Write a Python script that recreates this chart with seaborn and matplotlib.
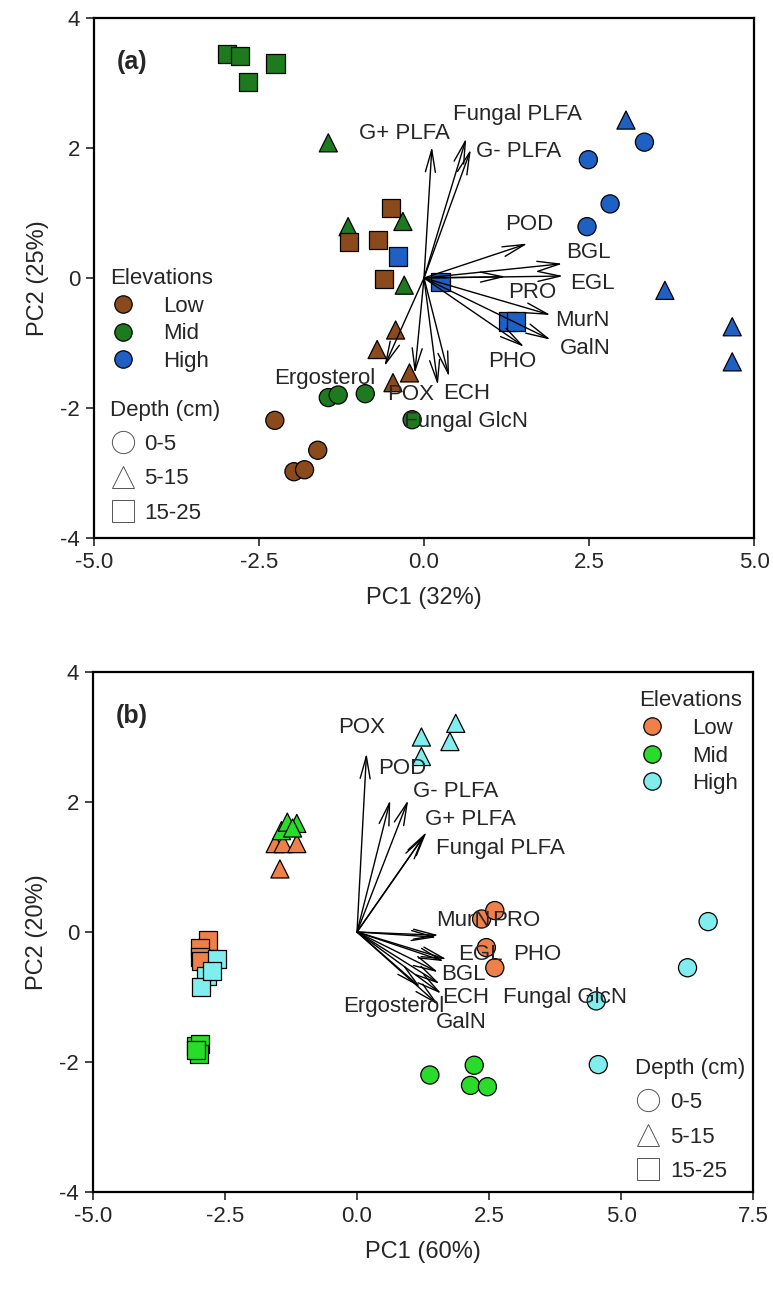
import numpy as np
import pandas as pd
import matplotlib
matplotlib.use("Agg")
import matplotlib.pyplot as plt
from matplotlib.lines import Line2D
import seaborn as sns

# ---------------- data: panel (a) ----------------
elev_levels = ["Low", "Mid", "High"]
depth_levels = ["0-5", "5-15", "15-25"]

a_low_circ_x = [-2.26, -1.61, -1.97, -1.81]
a_low_circ_y = [-2.19, -2.65, -2.98, -2.95]
a_mid_circ_x = [-1.45, -1.30, -0.89, -0.18]
a_mid_circ_y = [-1.84, -1.80, -1.78, -2.18]
a_high_circ_x = [3.34, 2.49, 2.82, 2.47]
a_high_circ_y = [2.09, 1.82, 1.14, 0.79]
a_low_tri_x = [-0.43, -0.71, -0.22, -0.47]
a_low_tri_y = [-0.80, -1.10, -1.46, -1.61]
a_mid_tri_x = [-1.45, -0.32, -1.15, -0.30]
a_mid_tri_y = [2.08, 0.87, 0.79, -0.11]
a_high_tri_x = [3.06, 3.65, 4.67, 4.67]
a_high_tri_y = [2.43, -0.19, -0.75, -1.29]
a_low_sq_x = [-0.50, -1.14, -0.70, -0.60]
a_low_sq_y = [1.08, 0.55, 0.58, -0.02]
a_mid_sq_x = [-2.98, -2.79, -2.67, -2.25]
a_mid_sq_y = [3.44, 3.42, 3.02, 3.30]
a_high_sq_x = [-0.40, 0.25, 1.27, 1.39]
a_high_sq_y = [0.33, -0.06, -0.67, -0.67]

a_vars = ["G+ PLFA", "Fungal PLFA", "G- PLFA", "POD", "BGL", "EGL", "PRO",
          "MurN", "GalN", "PHO", "ECH", "Fungal GlcN", "POX", "Ergosterol"]
a_load_x = [0.12, 0.64, 0.71, 1.57, 2.10, 2.11, 1.24, 1.92, 1.92, 1.52, 0.38, 0.21, -0.14, -0.60]
a_load_y = [2.02, 2.15, 1.98, 0.53, 0.22, 0.03, 0.02, -0.57, -0.95, -1.06, -1.52, -1.65, -1.47, -1.36]
a_lab_x = [-0.30, 1.41, 1.43, 1.60, 2.49, 2.55, 1.64, 2.40, 2.45, 1.34, 0.65, 0.64, -0.21, -1.50]
a_lab_y = [2.23, 2.51, 1.94, 0.82, 0.40, -0.08, -0.23, -0.65, -1.08, -1.29, -1.77, -2.21, -1.80, -1.54]

# ---------------- data: panel (b) ----------------
b_low_circ_x = [2.36, 2.61, 2.45, 2.61]
b_low_circ_y = [0.20, 0.33, -0.24, -0.55]
b_mid_circ_x = [1.38, 2.22, 2.15, 2.47]
b_mid_circ_y = [-2.20, -2.05, -2.36, -2.38]
b_high_circ_x = [6.65, 6.26, 4.53, 4.57]
b_high_circ_y = [0.16, -0.55, -1.06, -2.04]
b_low_tri_x = [-1.55, -1.40, -1.14, -1.46]
b_low_tri_y = [1.36, 1.36, 1.36, 0.97]
b_mid_tri_x = [-1.43, -1.32, -1.14, -1.22]
b_mid_tri_y = [1.56, 1.69, 1.67, 1.60]
b_high_tri_x = [1.22, 1.87, 1.76, 1.22]
b_high_tri_y = [3.00, 3.21, 2.93, 2.70]
b_low_sq_x = [-2.82, -2.98, -2.98, -2.95]
b_low_sq_y = [-0.13, -0.25, -0.38, -0.45]
b_mid_sq_x = [-3.05, -2.98, -3.00, -3.05]
b_mid_sq_y = [-1.75, -1.72, -1.88, -1.82]
b_high_sq_x = [-2.65, -2.85, -2.95, -2.75]
b_high_sq_y = [-0.42, -0.68, -0.85, -0.60]

b_vars = ["POX", "POD", "G- PLFA", "G+ PLFA", "Fungal PLFA", "MurN", "PRO",
          "EGL", "PHO", "BGL", "ECH", "Fungal GlcN", "Ergosterol", "GalN"]
b_load_x = [0.18, 0.63, 0.97, 1.32, 1.28, 1.51, 1.55, 1.70, 1.65, 1.54, 1.57, 1.60, 1.20, 1.54]
b_load_y = [2.75, 2.03, 2.03, 1.54, 1.49, -0.08, -0.05, -0.42, -0.45, -0.62, -0.80, -0.95, -0.85, -1.12]
b_lab_x = [0.09, 0.85, 1.86, 2.15, 2.71, 2.01, 3.01, 2.34, 3.41, 2.02, 2.06, 3.94, 0.70, 1.97]
b_lab_y = [3.14, 2.52, 2.16, 1.73, 1.28, 0.17, 0.17, -0.34, -0.34, -0.65, -1.01, -1.01, -1.14, -1.40]

a_colors = ["#8B4A1C", "#1E7A1E", "#1F60C4"]
b_colors = ["#F0804A", "#2ADC2A", "#80EEEE"]


def build(groups):
    rows = []
    for (elev, depth, xs, ys) in groups:
        for x, y in zip(xs, ys):
            rows.append({"PC1": x, "PC2": y, "Elevation": elev, "Depth": depth})
    return pd.DataFrame(rows)


df_a = build([
    ("Low", "0-5", a_low_circ_x, a_low_circ_y), ("Mid", "0-5", a_mid_circ_x, a_mid_circ_y),
    ("High", "0-5", a_high_circ_x, a_high_circ_y),
    ("Low", "5-15", a_low_tri_x, a_low_tri_y), ("Mid", "5-15", a_mid_tri_x, a_mid_tri_y),
    ("High", "5-15", a_high_tri_x, a_high_tri_y),
    ("Low", "15-25", a_low_sq_x, a_low_sq_y), ("Mid", "15-25", a_mid_sq_x, a_mid_sq_y),
    ("High", "15-25", a_high_sq_x, a_high_sq_y),
])
df_b = build([
    ("Low", "0-5", b_low_circ_x, b_low_circ_y), ("Mid", "0-5", b_mid_circ_x, b_mid_circ_y),
    ("High", "0-5", b_high_circ_x, b_high_circ_y),
    ("Low", "5-15", b_low_tri_x, b_low_tri_y), ("Mid", "5-15", b_mid_tri_x, b_mid_tri_y),
    ("High", "5-15", b_high_tri_x, b_high_tri_y),
    ("Low", "15-25", b_low_sq_x, b_low_sq_y), ("Mid", "15-25", b_mid_sq_x, b_mid_sq_y),
    ("High", "15-25", b_high_sq_x, b_high_sq_y),
])

sns.set_style("ticks")
plt.rcParams["font.family"] = ["Liberation Sans", "DejaVu Sans"]
plt.rcParams["axes.unicode_minus"] = False

FS = 16
fig = plt.figure(figsize=(7.73, 12.93), dpi=100)
ax_a = fig.add_axes([94 / 773, 1 - 538 / 1293, 660 / 773, 520 / 1293])
ax_b = fig.add_axes([93 / 773, 1 - 1192 / 1293, 660 / 773, 520 / 1293])

markers = {"0-5": "o", "5-15": "^", "15-25": "s"}

EB = 0.75  # title/entry gap (font units) for elevation legend
DB = 0.3   # same for depth legend
px = FS * 100 / 72.0


def panel(ax, df, colors, vars_, lx, ly, tx, ty, xlim, xticks, xlabel, ylabel, tag,
          elev_anchor, depth_anchor, elev_tpad, depth_tpad):
    sns.scatterplot(data=df, x="PC1", y="PC2", hue="Elevation", style="Depth",
                    hue_order=elev_levels, style_order=depth_levels,
                    palette=colors, markers=markers, s=170, edgecolor="black",
                    linewidth=0.9, legend=False, ax=ax, zorder=3)
    for name, x, y, px_, py_ in zip(vars_, lx, ly, tx, ty):
        ax.annotate("", xy=(x, y), xytext=(0, 0),
                    arrowprops=dict(arrowstyle="->,head_length=0.8,head_width=0.18",
                                    lw=1.0, color="black", mutation_scale=20,
                                    shrinkA=0, shrinkB=0), zorder=4)
        ax.text(px_, py_, name, fontsize=FS, ha="center", va="center", zorder=5)
    ax.set_xlim(*xlim)
    ax.set_ylim(-4, 4)
    ax.set_xticks(xticks)
    ax.set_xticklabels([f"{v:.1f}" for v in xticks])
    ax.set_yticks([-4, -2, 0, 2, 4])
    ax.set_yticklabels(["-4", "-2", "0", "2", "4"])
    ax.tick_params(axis="both", direction="out", length=6, width=1.2, labelsize=FS, pad=4,
                   top=False, right=False)
    for sp in ax.spines.values():
        sp.set_visible(True)
        sp.set_linewidth(1.6)
        sp.set_color("black")
    ax.set_xlabel(xlabel, fontsize=FS + 1, labelpad=10)
    ax.set_ylabel(ylabel, fontsize=FS + 1, labelpad=8)
    ax.text(0.035, 0.915, tag, transform=ax.transAxes, fontsize=FS + 2,
            fontweight="bold", ha="left", va="center")

    w, h = 660.0, 520.0
    eh = [Line2D([], [], marker="o", ls="", markersize=12.5, markerfacecolor=c,
                 markeredgecolor="black", markeredgewidth=0.9) for c in colors]
    leg1 = ax.legend(eh, elev_levels, title="Elevations", loc="upper left",
                     bbox_to_anchor=(elev_anchor[0] - EB * px / w,
                                     elev_anchor[1] + EB * px / h),
                     frameon=False, fontsize=FS,
                     title_fontsize=FS, alignment="left", borderpad=EB,
                     borderaxespad=0, handlelength=1.2, handletextpad=elev_tpad,
                     labelspacing=0.3)
    ax.add_artist(leg1)
    dh = [Line2D([], [], marker=m, ls="", markersize=16, markerfacecolor="white",
                 markeredgecolor="#555555", markeredgewidth=0.7)
          for m in ["o", "^", "s"]]
    ax.legend(dh, depth_levels, title="Depth (cm)", loc="upper left",
              bbox_to_anchor=(depth_anchor[0] - DB * px / w,
                              depth_anchor[1] + DB * px / h),
              frameon=False, fontsize=FS,
              title_fontsize=FS, alignment="left", borderpad=DB, borderaxespad=0,
              handlelength=1.2, handletextpad=depth_tpad, labelspacing=0.6)


panel(ax_a, df_a, a_colors, a_vars, a_load_x, a_load_y, a_lab_x, a_lab_y,
      (-5, 5), [-5.0, -2.5, 0.0, 2.5, 5.0], "PC1 (32%)", "PC2 (25%)", "(a)",
      (0.024, 0.519), (0.024, 0.266), 1.2, 0.35)
panel(ax_b, df_b, b_colors, b_vars, b_load_x, b_load_y, b_lab_x, b_lab_y,
      (-5, 7.5), [-5.0, -2.5, 0.0, 2.5, 5.0, 7.5], "PC1 (60%)", "PC2 (20%)", "(b)",
      (0.827, 0.965), (0.821, 0.258), 1.2, 0.4)

fig.savefig("out.png", dpi=100)
